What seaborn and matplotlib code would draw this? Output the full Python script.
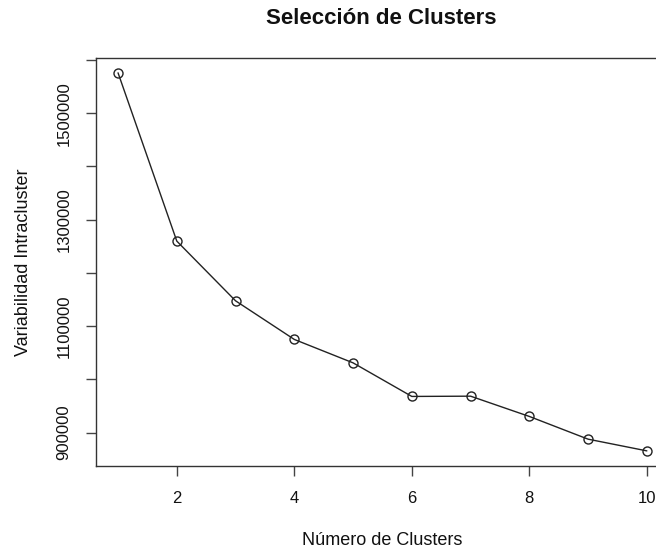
import matplotlib
matplotlib.use('Agg')
import pandas as pd
import seaborn as sns
import matplotlib.pyplot as plt

# elbow curve values
clusters = [1, 2, 3, 4, 5, 6, 7, 8, 9, 10]
variabilidad = [1576000, 1259800, 1147600, 1075000, 1031000,
                967900, 968400, 930300, 887600, 865600]
yticks = [900000, 1000000, 1100000, 1200000, 1300000, 1400000, 1500000, 1600000]
ytick_labels = ['900000', '', '1100000', '', '1300000', '', '1500000', '']
xticks = [2, 4, 6, 8, 10]

sns.set_style('ticks')
plt.rcParams['font.family'] = ['Liberation Sans', 'DejaVu Sans']

df = pd.DataFrame({'k': clusters, 'wss': variabilidad})

fig = plt.figure(figsize=(6.56, 5.48), dpi=100)
ax = fig.add_axes([96 / 656, 82 / 548, 572 / 656, 408.3 / 548])

sns.lineplot(data=df, x='k', y='wss', ax=ax, color='#222222', linewidth=1,
             marker='o', markersize=6.5, markerfacecolor='none',
             markeredgecolor='#222222', markeredgewidth=1)

span = max(variabilidad) - min(variabilidad)
ax.set_ylim(min(variabilidad) - 0.04 * span, max(variabilidad) + 0.04 * span)
ax.set_xlim(0.625, 10.36)

ax.set_xticks(xticks)
ax.set_xticklabels([str(t) for t in xticks])
ax.set_yticks(yticks)
ax.set_yticklabels(ytick_labels, rotation=90, va='center')

ax.tick_params(axis='both', direction='out', length=7.5, width=1,
               color='#444444', labelsize=12, labelcolor='#111111',
               bottom=True, left=True, top=False, right=False)
ax.tick_params(axis='x', pad=10.5)
ax.tick_params(axis='y', pad=10)

for s in ax.spines.values():
    s.set_visible(True)
    s.set_color('#333333')
    s.set_linewidth(1)

ax.set_xlabel('Número de Clusters', fontsize=13, labelpad=19, color='#111111')
ax.set_ylabel('Variabilidad Intracluster', fontsize=13, labelpad=18,
              color='#111111')
fig.text(381 / 656, 1 - 19 / 548, 'Selección de Clusters', ha='center',
         va='center', fontsize=16, fontweight='bold', color='#111111')

fig.savefig('out.png', dpi=100)
